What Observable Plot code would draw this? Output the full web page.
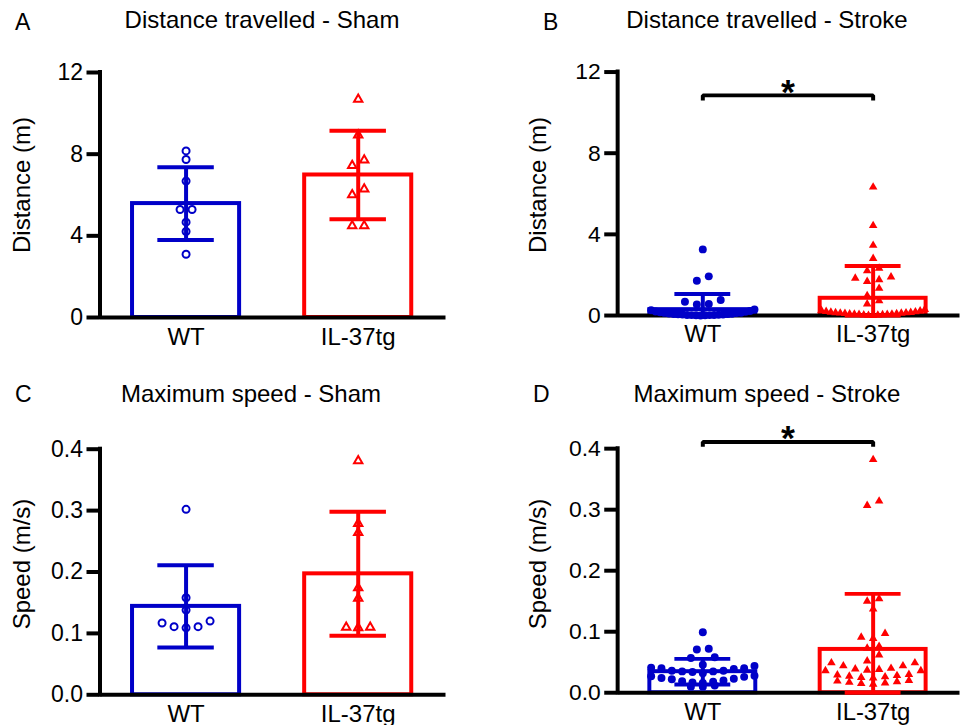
<!DOCTYPE html>
<html><head><meta charset="utf-8">
<script src="https://cdn.jsdelivr.net/npm/d3@7"></script>
<script src="https://cdn.jsdelivr.net/npm/@observablehq/plot@0.6"></script>
<style>
html,body{margin:0;padding:0;background:#fff;overflow:hidden;width:962px;height:725px}
#root{position:relative;width:962px;height:725px;font-family:"Liberation Sans",Arial,sans-serif;color:#000}
.panel{position:absolute}
.panel svg{overflow:visible;display:block}
#annot{position:absolute;left:0;top:0;pointer-events:none}
</style></head><body><div id="root"></div>
<script>
// ---------- data ----------
const groups = ["WT", "IL-37tg"];
const groupColors = ["#0000c8", "#ff0000"];

const distTicks = [0, 4, 8, 12];
const speedTicks = [0, 0.1, 0.2, 0.3, 0.4];

// A: Distance travelled - Sham (m)
const distShamWT = [8.16, 7.74, 6.68, 5.29, 5.29, 4.67, 4.21, 3.10];
const distShamIL = [10.69, 8.93, 7.71, 7.44, 6.29, 6.01, 4.49, 4.49];
const distShamMean = [5.58, 6.98];
const distShamSD = [1.78, 2.17];

// B: Distance travelled - Stroke (m)
const distStrokeWT = [3.26, 1.93, 1.71, 0.77, 0.68, 0.57, 0.54, 0.30, 0.26, 0.22, 0.20, 0.18, 0.16,
  0.14, 0.13, 0.12, 0.10, 0.09, 0.08, 0.07, 0.06, 0.05, 0.05, 0.04, 0.03, 0.03, 0.02, 0.02, 0.01, 0.01, 0.00];
const distStrokeIL = [6.33, 4.43, 3.46, 2.81, 2.33, 2.20, 1.90, 1.84, 1.76, 1.68, 1.34, 0.98, 0.73, 0.57,
  0.30, 0.25, 0.22, 0.20, 0.18, 0.16, 0.15, 0.14, 0.13, 0.12, 0.11, 0.10, 0.09, 0.08, 0.07, 0.06, 0.05, 0.05,
  0.04, 0.03, 0.02, 0.01, 0.00];
const distStrokeMean = [0.29, 0.85];
const distStrokeSD = [0.77, 1.59];
const distStrokeSig = {from: 0, to: 1, y: 10.85, drop: 0.25, label: "*"};

// C: Maximum speed - Sham (m/s)
const speedShamWT = [0.302, 0.158, 0.138, 0.120, 0.117, 0.111, 0.111, 0.109];
const speedShamIL = [0.381, 0.279, 0.264, 0.174, 0.157, 0.110, 0.110, 0.109];
const speedShamMean = [0.144, 0.197];
const speedShamSD = [0.067, 0.101];

// D: Maximum speed - Stroke (m/s)
const speedStrokeWT = [0.099, 0.072, 0.071, 0.058, 0.057, 0.046, 0.044, 0.041, 0.040, 0.040, 0.039,
  0.036, 0.036, 0.035, 0.035, 0.034, 0.032, 0.028, 0.027, 0.026, 0.024, 0.023, 0.022, 0.020, 0.019,
  0.018, 0.017, 0.016, 0.012, 0.010, 0.010];
const speedStrokeIL = [0.382, 0.314, 0.307, 0.154, 0.150, 0.137, 0.097, 0.091, 0.089, 0.076, 0.073,
  0.062, 0.052, 0.049, 0.049, 0.044, 0.044, 0.040, 0.039, 0.038, 0.037, 0.036, 0.036, 0.030, 0.029,
  0.028, 0.027, 0.026, 0.025, 0.024, 0.020, 0.019, 0.018, 0.017, 0.016, 0.015, 0.014];
const speedStrokeMean = [0.0345, 0.071];
const speedStrokeSD = [0.021, 0.091];
const speedStrokeSig = {from: 0, to: 1, y: 0.411, drop: 0.008, label: "*"};

// ---------- drawing ----------
const FONT = '"Liberation Sans", Arial, sans-serif';
const hasAxisMarks = typeof Plot.axisY === "function";
const BAR_HALF = 0.311, CAP_HALF = 0.164;
const TICK_PX = 13;

function rowLayout(values, yPx, opt) {
  const pts = values.map(v => ({v, py: yPx(v)})).sort((a, b) => a.py - b.py);
  const out = [];
  let i = 0;
  while (i < pts.length) {
    let j = i + 1;
    while (j < pts.length && pts[j].py - pts[i].py < opt.rowH) j++;
    const row = pts.slice(i, j);
    const n = row.length;
    const step = n > 1 ? Math.min(opt.gap, opt.maxW / (n - 1)) : 0;
    const slots = d3.range(n).map(k => (k - (n - 1) / 2) * step);
    const order = [];
    let lo = 0, hi = n - 1, right = true;
    while (lo <= hi) { order.push(right ? hi-- : lo++); right = !right; }
    row.forEach((p, k) => out.push({v: p.v, dxPx: slots[order[k]]}));
    i = j;
  }
  return out;
}

function panel(cfg) {
  const xDomain = [-0.5, 1.51];
  const yFormat = cfg.yFormat;
  const base = {
    width: cfg.width, height: cfg.height,
    marginLeft: cfg.ml, marginRight: cfg.mr, marginTop: cfg.mt, marginBottom: cfg.mb,
    style: {fontFamily: FONT, fontSize: "23px", color: "#000", background: "transparent", overflow: "visible"}
  };
  const xOpt = {type: "linear", domain: xDomain, axis: null};
  const yOpt = {domain: cfg.yDomain, axis: null};
  const probe = Plot.plot({...base, x: xOpt, y: yOpt, marks: [Plot.ruleY([0])]});
  const ys = probe.scale("y"), xs = probe.scale("x");
  const pxPerX = (xs.range[1] - xs.range[0]) / (xs.domain[1] - xs.domain[0]);

  const series = [cfg.wt, cfg.il];
  const summary = groups.map((g, i) => ({
    group: g, idx: i, mean: cfg.mean[i],
    lo: Math.max(0, cfg.mean[i] - cfg.sd[i]), hi: cfg.mean[i] + cfg.sd[i]
  }));

  const marks = [];
  summary.forEach((s, i) => {
    marks.push(Plot.rect([s], {x1: d => d.idx - BAR_HALF, x2: d => d.idx + BAR_HALF, y1: 0, y2: "mean",
      fill: "white", stroke: groupColors[i], strokeWidth: 4}));
  });
  // axes: lines, thick tick marks, tick labels
  marks.push(Plot.ruleY([cfg.yDomain[0]], {x1: xDomain[0], x2: xDomain[1], stroke: "#000", strokeWidth: 4}));
  marks.push(Plot.ruleX([xDomain[0]], {y1: cfg.yDomain[0], y2: cfg.yDomain[1], stroke: "#000", strokeWidth: 4, strokeLinecap: "square"}));
  marks.push(Plot.ruleY(cfg.yTicks, {y: d => d, x1: xDomain[0] - TICK_PX / pxPerX, x2: xDomain[0], stroke: "#000", strokeWidth: 4}));
  if (hasAxisMarks) {
    marks.push(Plot.axisY({ticks: cfg.yTicks, tickFormat: yFormat, tickSize: 0, tickPadding: TICK_PX + 4,
      label: null, fontSize: 23}));
    marks.push(Plot.axisX({ticks: [0, 1], tickFormat: i => groups[i], tickSize: 0, tickPadding: 10,
      label: null, fontSize: 24}));
  } else {
    marks.push(Plot.text(cfg.yTicks, {y: d => d, x: xDomain[0], text: d => yFormat(d), textAnchor: "end",
      dx: -(TICK_PX + 4), fontSize: 23}));
    marks.push(Plot.text([0, 1], {x: d => d, y: cfg.yDomain[0], text: d => groups[d], lineAnchor: "top",
      dy: 10, fontSize: 24}));
  }
  // points
  series.forEach((vals, gi) => {
    const laid = rowLayout(vals, v => ys.apply(v), {rowH: 7.5, gap: 12, maxW: 104})
      .map(p => ({group: groups[gi], value: p.v, pos: gi + p.dxPx / pxPerX}));
    const tri = gi === 1;
    const opts = {x: "pos", y: "value", symbol: tri ? "triangle" : "circle"};
    if (cfg.filled) Object.assign(opts, {fill: groupColors[gi], stroke: "none", r: tri ? 3.2 : 4});
    else Object.assign(opts, {fill: "none", stroke: groupColors[gi], strokeWidth: 2, r: tri ? 3.1 : 3.5});
    marks.push(Plot.dot(laid, opts));
  });
  // error bars (mean ± SD)
  summary.forEach((s, i) => {
    const c = groupColors[i];
    marks.push(Plot.ruleX([s], {x: "idx", y1: "lo", y2: "hi", stroke: c, strokeWidth: 4}));
    marks.push(Plot.ruleY([s], {y: "hi", x1: d => d.idx - CAP_HALF, x2: d => d.idx + CAP_HALF, stroke: c, strokeWidth: 4}));
    marks.push(Plot.ruleY([s], {y: "lo", x1: d => d.idx - CAP_HALF, x2: d => d.idx + CAP_HALF, stroke: c, strokeWidth: 4}));
  });
  // significance bracket
  if (cfg.sig) {
    const s = cfg.sig;
    const br = [{x: s.from, y: s.y - s.drop}, {x: s.from, y: s.y}, {x: s.to, y: s.y}, {x: s.to, y: s.y - s.drop}];
    marks.push(Plot.line(br, {x: "x", y: "y", stroke: "#000", strokeWidth: 4, strokeLinejoin: "miter", strokeLinecap: "butt"}));
    marks.push(Plot.text([s], {x: d => (d.from + d.to) / 2, y: "y", text: "label", fontSize: 36,
      fontWeight: "bold", fill: "#000", dy: -3}));
  }
  const svg = Plot.plot({...base, x: xOpt, y: yOpt, marks});
  const div = document.createElement("div");
  div.className = "panel";
  div.style.left = cfg.left + "px";
  div.style.top = cfg.top + "px";
  div.appendChild(svg);
  document.getElementById("root").appendChild(div);
}

const fmtDist = d3.format("d");
const fmtSpeed = d3.format(".1f");

panel({left: 0, top: 0, width: 481, height: 362, ml: 99.5, mr: 35.5, mt: 72, mb: 45,
  wt: distShamWT, il: distShamIL, mean: distShamMean, sd: distShamSD,
  yDomain: [0, 12], yTicks: distTicks, yFormat: fmtDist, filled: false});
panel({left: 481, top: 0, width: 484, height: 362, ml: 137, mr: 2.5, mt: 72, mb: 45,
  wt: distStrokeWT, il: distStrokeIL, mean: distStrokeMean, sd: distStrokeSD,
  yDomain: [0, 12], yTicks: distTicks, yFormat: fmtDist, filled: true, sig: distStrokeSig});
panel({left: 0, top: 362, width: 481, height: 363, ml: 99.5, mr: 35.5, mt: 86.7, mb: 30.7,
  wt: speedShamWT, il: speedShamIL, mean: speedShamMean, sd: speedShamSD,
  yDomain: [0, 0.4], yTicks: speedTicks, yFormat: fmtSpeed, filled: false});
panel({left: 481, top: 362, width: 484, height: 363, ml: 137, mr: 2.5, mt: 86.7, mb: 30.7,
  wt: speedStrokeWT, il: speedStrokeIL, mean: speedStrokeMean, sd: speedStrokeSD,
  yDomain: [0, 0.4], yTicks: speedTicks, yFormat: fmtSpeed, filled: true, sig: speedStrokeSig});

// ---------- titles, panel letters and axis titles ----------
const titles = [
  {t: "Distance travelled - Sham", x: 262, y: 28},
  {t: "Distance travelled - Stroke", x: 767, y: 28},
  {t: "Maximum speed - Sham", x: 251, y: 402},
  {t: "Maximum speed - Stroke", x: 767, y: 402}
];
const letters = [
  {t: "A", x: 15, y: 30}, {t: "B", x: 543, y: 30}, {t: "C", x: 15, y: 402}, {t: "D", x: 533, y: 402}
];
const yTitles = [
  {t: "Distance (m)", x: 30, y: 185}, {t: "Distance (m)", x: 546, y: 185},
  {t: "Speed (m/s)", x: 30, y: 564}, {t: "Speed (m/s)", x: 546, y: 564}
];
const ann = d3.select("#root").append("svg").attr("id", "annot").attr("width", 962).attr("height", 725)
  .style("font-family", FONT).attr("fill", "#000");
ann.selectAll("text.title").data(titles).join("text").attr("class", "title")
  .attr("x", d => d.x).attr("y", d => d.y).attr("text-anchor", "middle").attr("font-size", 24).text(d => d.t);
ann.selectAll("text.letter").data(letters).join("text").attr("class", "letter")
  .attr("x", d => d.x).attr("y", d => d.y).attr("font-size", 23).text(d => d.t);
ann.selectAll("text.ytitle").data(yTitles).join("text").attr("class", "ytitle")
  .attr("transform", d => `translate(${d.x},${d.y}) rotate(-90)`).attr("text-anchor", "middle")
  .attr("font-size", 24).text(d => d.t);
</script>
</body></html>
